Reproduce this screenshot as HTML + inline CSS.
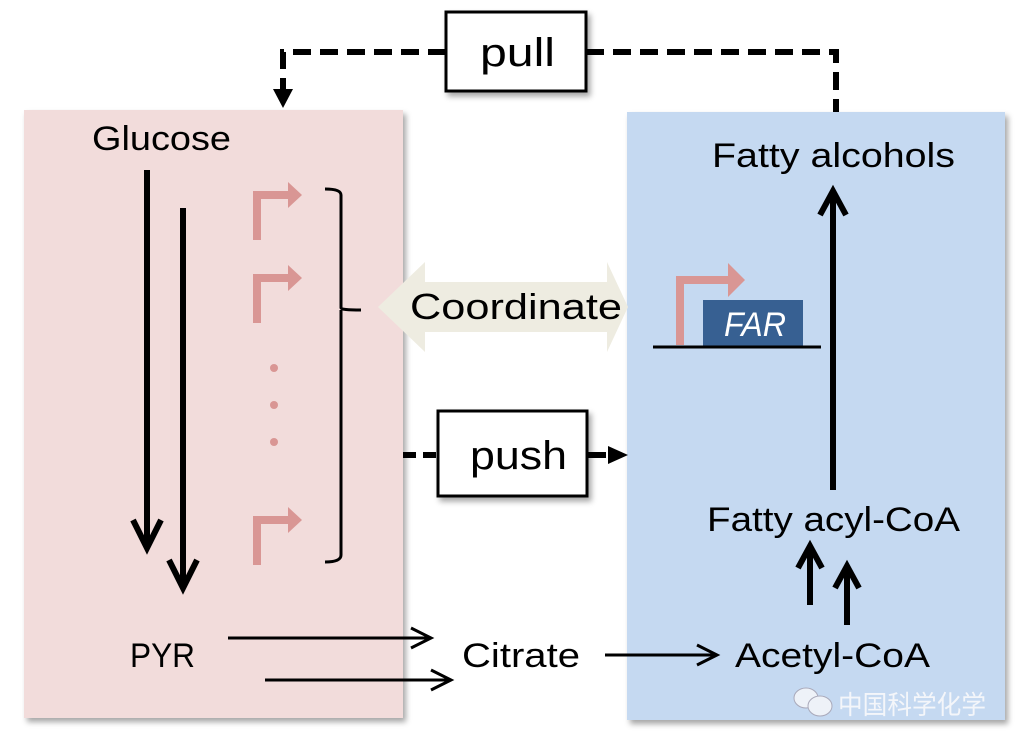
<!DOCTYPE html>
<html><head><meta charset="utf-8"><style>
html,body{margin:0;padding:0;background:#fff}
svg text{font-family:"Liberation Sans","Noto Sans CJK SC",sans-serif}
</style></head><body>
<svg width="1021" height="749" viewBox="0 0 1021 749" xmlns="http://www.w3.org/2000/svg">
<defs>
<filter id="sh" x="-10%" y="-10%" width="130%" height="130%"><feDropShadow dx="3" dy="4" stdDeviation="3" flood-color="#000" flood-opacity="0.35"/></filter>
</defs>
<rect x="24" y="110" width="379" height="608" fill="#f2dcdb" filter="url(#sh)"/>
<rect x="627" y="112" width="378" height="608" fill="#c5d9f1" filter="url(#sh)"/>

<path d="M446 52 H283 V96" fill="none" stroke="#000" stroke-width="6" stroke-dasharray="18,9"/>
<polygon points="273,89 293,89 283,108" fill="#000"/>
<path d="M586 52 H836 V112" fill="none" stroke="#000" stroke-width="6" stroke-dasharray="18,9"/>
<rect x="446" y="12" width="140" height="79" fill="#fff" stroke="#000" stroke-width="3" filter="url(#sh)"/>
<text x="480" y="66" font-size="40" textLength="75" lengthAdjust="spacingAndGlyphs">pull</text>

<path d="M403 455 H437" stroke="#000" stroke-width="6" stroke-dasharray="13,7" />
<path d="M587 455 H606" stroke="#000" stroke-width="6"/>
<polygon points="608,446 608,464 628,455" fill="#000"/>
<rect x="438" y="411" width="149" height="85" fill="#fff" stroke="#000" stroke-width="3" filter="url(#sh)"/>
<text x="470" y="469" font-size="40" textLength="97" lengthAdjust="spacingAndGlyphs">push</text>

<polygon points="378,307 425,262 425,282 607,282 607,262 628,307 607,352 607,332 425,332 425,352" fill="#eeece1"/>
<text x="410" y="319" font-size="36" textLength="212" lengthAdjust="spacingAndGlyphs">Coordinate</text>

<text x="92" y="150" font-size="34" textLength="139" lengthAdjust="spacingAndGlyphs">Glucose</text>
<line x1="147" y1="170" x2="147" y2="545" stroke="#000" stroke-width="6"/>
<polyline points="133,520 147,548 161,520" fill="none" stroke="#000" stroke-width="6"/>
<line x1="183" y1="208" x2="183" y2="585" stroke="#000" stroke-width="6"/>
<polyline points="169,560 183,588 197,560" fill="none" stroke="#000" stroke-width="6"/>

<g fill="none" stroke="#d99694" stroke-width="8">
<polyline points="257,240 257,195 290,195"/>
<polyline points="257,323 257,278 290,278"/>
<polyline points="257,565 257,520 290,520"/>
<polyline points="680,345 680,280 730,280"/>
</g>
<g fill="#d99694">
<polygon points="288,182 302,195 288,208"/>
<polygon points="288,265 302,278 288,291"/>
<polygon points="288,507 302,520 288,533"/>
<polygon points="728,263 745,280 728,297"/>
<circle cx="274" cy="368" r="4"/><circle cx="274" cy="405" r="4"/><circle cx="274" cy="442" r="4"/>
</g>
<path d="M325 189 Q341 189 341 195 V308 Q341 310 361 310 M341 310 V555 Q341 562 325 562" fill="none" stroke="#000" stroke-width="3"/>

<rect x="703" y="300" width="100" height="46" fill="#376092"/>
<text x="724" y="336" font-size="34" font-style="italic" fill="#fff" textLength="62" lengthAdjust="spacingAndGlyphs">FAR</text>
<line x1="653" y1="347" x2="821" y2="347" stroke="#000" stroke-width="3"/>

<text x="712" y="167" font-size="34" textLength="243" lengthAdjust="spacingAndGlyphs">Fatty alcohols</text>
<line x1="833" y1="490" x2="833" y2="196" stroke="#000" stroke-width="6"/>
<polyline points="820,215 833,191 846,215" fill="none" stroke="#000" stroke-width="6"/>
<text x="707" y="531" font-size="34" textLength="253" lengthAdjust="spacingAndGlyphs">Fatty acyl-CoA</text>
<line x1="810" y1="605" x2="810" y2="550" stroke="#000" stroke-width="6"/>
<polyline points="798,568 810,546 822,568" fill="none" stroke="#000" stroke-width="6"/>
<line x1="847" y1="625" x2="847" y2="570" stroke="#000" stroke-width="6"/>
<polyline points="835,588 847,566 859,588" fill="none" stroke="#000" stroke-width="6"/>
<text x="735" y="667" font-size="34" textLength="195" lengthAdjust="spacingAndGlyphs">Acetyl-CoA</text>

<text x="130" y="667" font-size="34" textLength="65" lengthAdjust="spacingAndGlyphs">PYR</text>
<text x="462" y="667" font-size="34" textLength="118" lengthAdjust="spacingAndGlyphs">Citrate</text>
<g fill="none" stroke="#000" stroke-width="3">
<line x1="228" y1="638" x2="430" y2="638"/><polyline points="411,628 431,638 411,648"/>
<line x1="265" y1="680" x2="450" y2="680"/><polyline points="431,670 451,680 431,690"/>
<line x1="605" y1="655" x2="716" y2="655"/><polyline points="697,645 717,655 697,665"/>
</g>
<g fill="#eef2f8" stroke="#aab" stroke-width="1">
<ellipse cx="806" cy="698" rx="12" ry="10"/><ellipse cx="820" cy="706" rx="12" ry="10"/>
</g>
<text x="838" y="714" font-size="26" fill="#f4f6fa" textLength="148" lengthAdjust="spacingAndGlyphs" font-family="Noto Sans CJK SC,sans-serif">中国科学化学</text>
</svg>
</body></html>
